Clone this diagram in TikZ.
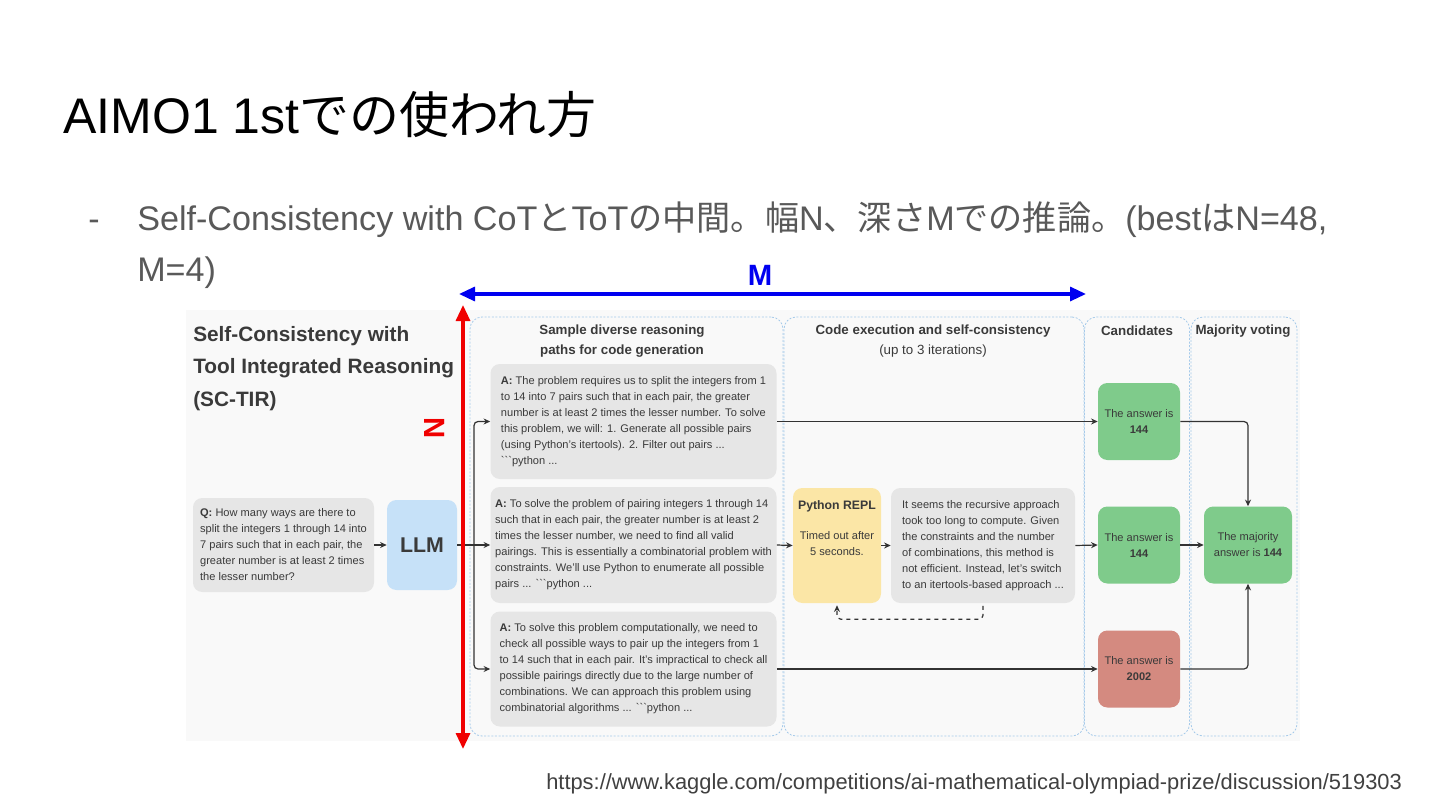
\documentclass[tikz,border=0pt]{standalone}
\usepackage{fontspec}
\setmainfont{Liberation Sans}
\newfontfamily\jp{Noto Sans CJK JP}
\newfontfamily\btf[Ligatures=TeXOff]{Liberation Sans}
\newcommand\bticks{{\btf ```}}
\usetikzlibrary{arrows.meta}
\definecolor{figbg}{HTML}{F9F9F9}
\definecolor{boxgray}{HTML}{E6E6E6}
\definecolor{txt}{HTML}{3A3A3A}
\definecolor{llmblue}{HTML}{C6E1F8}
\definecolor{replyel}{HTML}{FBE6A6}
\definecolor{candgreen}{HTML}{7FCB8B}
\definecolor{candred}{HTML}{D48A80}
\definecolor{colblue}{HTML}{A6CAEA}
\definecolor{linegray}{HTML}{333333}
\definecolor{bullgray}{HTML}{595959}
\definecolor{urlgray}{HTML}{404040}
\definecolor{bigred}{HTML}{F00000}
\definecolor{bigblue}{HTML}{0000F0}
\begin{document}
\begin{tikzpicture}[x=0.75pt,y=-0.75pt,
  wh/.style 2 args={minimum width=#1*0.75pt, minimum height=#2*0.75pt},
  boxbase/.style={rounded corners=7pt, inner sep=0pt, text=txt, font=\fontsize{8.3}{12}\selectfont},
  gbox/.style={boxbase, fill=boxgray, align=left},
  colbox/.style={draw=colblue, dash pattern=on 1.5pt off 1.2pt, line width=0.6pt, rounded corners=9pt, inner sep=0pt},
  hdr/.style={text=txt, font=\fontsize{10}{15}\selectfont\bfseries, align=center, inner sep=0pt},
  conn/.style={draw=linegray, line width=0.9pt},
  arr/.style={conn, -{Stealth[length=5pt,width=4.5pt]}},
  bigarr/.style={line width=2.4pt, {Triangle[length=12pt,width=10.5pt]}-{Triangle[length=12pt,width=10.5pt]}},
  sctirf/.style={anchor=base west, inner sep=0pt, text=txt, font=\fontsize{15.6}{24.4}\selectfont\bfseries}
]
\useasboundingbox (0,0) rectangle (1440,810);
\fill[white] (0,0) rectangle (1440,810);

% slide texts
\node[anchor=base west, inner sep=0pt, font=\fontsize{37.5}{45}\selectfont] (title) at (63,133) {AIMO1 1st{\jp での使われ方}};
\node[anchor=base west, inner sep=0pt, text=bullgray, font=\fontsize{25.5}{38.25}\selectfont] (dash) at (88,230) {-};
\node[anchor=base west, inner sep=0pt, text=bullgray, font=\fontsize{25.6}{38.25}\selectfont] (bullet1) at (137,230)
  {Self-Consistency with CoT{\jp と}ToT{\jp の中間。幅}N{\jp 、深さ}M{\jp での推論。}(best{\jp は}N=48,};
\node[anchor=base west, inner sep=0pt, text=bullgray, font=\fontsize{25.6}{38.25}\selectfont] (bullet2) at (137,281) {M=4)};
\node[anchor=base west, inner sep=0pt, text=urlgray, font=\fontsize{16.4}{20}\selectfont] (url) at (546,789)
  {https://www.kaggle.com/competitions/ai-mathematical-olympiad-prize/discussion/519303};

% figure background
\node[fill=figbg, inner sep=0pt, wh={1114}{431}] (fig) at (743,525.5) {};

% columns
\node[colbox, wh={313}{419}] (col1) at (626.5,526.5) {};
\node[colbox, wh={300}{419}] (col2) at (934,526.5) {};
\node[colbox, wh={105}{419}] (col3) at (1137,526.5) {};
\node[colbox, wh={106}{419}] (col4) at (1244,526.5) {};

% headers
\node[hdr] (h1) at (622,341) {Sample diverse reasoning\\paths for code generation};
\node[hdr] (h2) at (933,341) {Code execution and self-consistency\\\mdseries (up to 3 iterations)};
\node[hdr] (h3) at (1137,331) {Candidates};
\node[hdr] (h4) at (1243,331) {Majority voting};

\node[sctirf] (sctir1) at (193,341) {Self-Consistency with};
\node[sctirf] (sctir2) at (193,373.5) {Tool Integrated Reasoning};
\node[sctirf] (sctir3) at (193,406) {(SC-TIR)};

% boxes
\node[gbox, wh={181}{94}] (q) at (283.5,545)
  {\textbf{Q:} How many ways are there to\\split the integers 1 through 14 into\\7 pairs such that in each pair, the\\greater number is at least 2 times\\the lesser number?};
\node[boxbase, fill=llmblue, wh={70}{90}, font=\fontsize{16}{18}\selectfont\bfseries] (llm) at (422,545) {LLM};

\node[gbox, wh={286}{115}] (a1) at (633.5,421.5)
  {\textbf{A:} The problem requires us to split the integers from 1\\to 14 into 7 pairs such that in each pair, the greater\\number is at least 2 times the lesser number. To solve\\this problem, we will: 1. Generate all possible pairs\\(using Python's itertools). 2. Filter out pairs ...\\\bticks python ...};
\node[gbox, wh={286}{116}] (a2) at (633.5,545)
  {\textbf{A:} To solve the problem of pairing integers 1 through 14\\such that in each pair, the greater number is at least 2\\times the lesser number, we need to find all valid\\pairings. This is essentially a combinatorial problem with\\constraints. We'll use Python to enumerate all possible\\pairs ... \bticks python ...};
\node[gbox, wh={286}{115}] (a3) at (633.5,669)
  {\textbf{A:} To solve this problem computationally, we need to\\check all possible ways to pair up the integers from 1\\to 14 such that in each pair. It's impractical to check all\\possible pairings directly due to the large number of\\combinations. We can approach this problem using\\combinatorial algorithms ... \bticks python ...};

\node[boxbase, fill=replyel, wh={88}{115}, align=center] (repl) at (837,545.5)
  {{\fontsize{9.2}{12}\selectfont\bfseries Python REPL}\\[10pt]Timed out after\\5 seconds.\\[14pt]};
\node[gbox, wh={184}{115}] (fix) at (983,545.5)
  {It seems the recursive approach\\took too long to compute. Given\\the constraints and the number\\of combinations, this method is\\not efficient. Instead, let's switch\\to an itertools-based approach ...};

\node[boxbase, fill=candgreen, wh={82}{77}, align=center] (c1) at (1139,421.5) {The answer is\\\textbf{144}};
\node[boxbase, fill=candgreen, wh={82}{77}, align=center] (c2) at (1139,545) {The answer is\\\textbf{144}};
\node[boxbase, fill=candred, wh={82}{77}, align=center] (c3) at (1139,669) {The answer is\\\textbf{2002}};
\node[boxbase, fill=candgreen, wh={88}{77}, align=center] (maj) at (1248,545) {The majority\\answer is \textbf{144}};

% connectors
\coordinate (split) at (474,545);
\draw[arr] (q.east) -- (llm.west);
\draw[conn] (llm.east) -- (split);
\draw[arr, rounded corners=3pt] (split) |- (a1.west);
\draw[arr] (split) -- (a2.west);
\draw[arr, rounded corners=3pt] (split) |- (a3.west);
\draw[arr] (a1.east) -- (c1.west);
\draw[arr] (a2.east) -- (repl.west);
\draw[arr] (repl.east) -- (fix.west);
\draw[arr] (fix.east) -- (c2.west);
\draw[arr] (a3.east) -- (c3.west);
\draw[arr, dashed, rounded corners=3pt, shorten <=2pt, shorten >=1.5pt] (fix.south) -- ++(0,16) -| (repl.south);
\draw[arr, rounded corners=3pt] (c1.east) -| (maj.north);
\draw[arr] (c2.east) -- (maj.west);
\draw[arr, rounded corners=3pt] (c3.east) -| (maj.south);

% N and M arrows
\coordinate (ntop) at (463,305);
\coordinate (nbot) at (463,749);
\coordinate (mleft) at (459,294);
\coordinate (mright) at (1086,294);
\draw[bigarr, draw=bigred, fill=bigred] (ntop) -- (nbot);
\draw[bigarr, draw=bigblue, fill=bigblue] (mleft) -- (mright);
\node[text=bigred, rotate=-90, inner sep=0pt, font=\fontsize{22}{24}\selectfont\bfseries] (nlab) at (435,428) {N};
\node[text=bigblue, anchor=base, inner sep=0pt, font=\fontsize{22}{24}\selectfont\bfseries] (mlab) at (760,285) {M};
\end{tikzpicture}
\end{document}
